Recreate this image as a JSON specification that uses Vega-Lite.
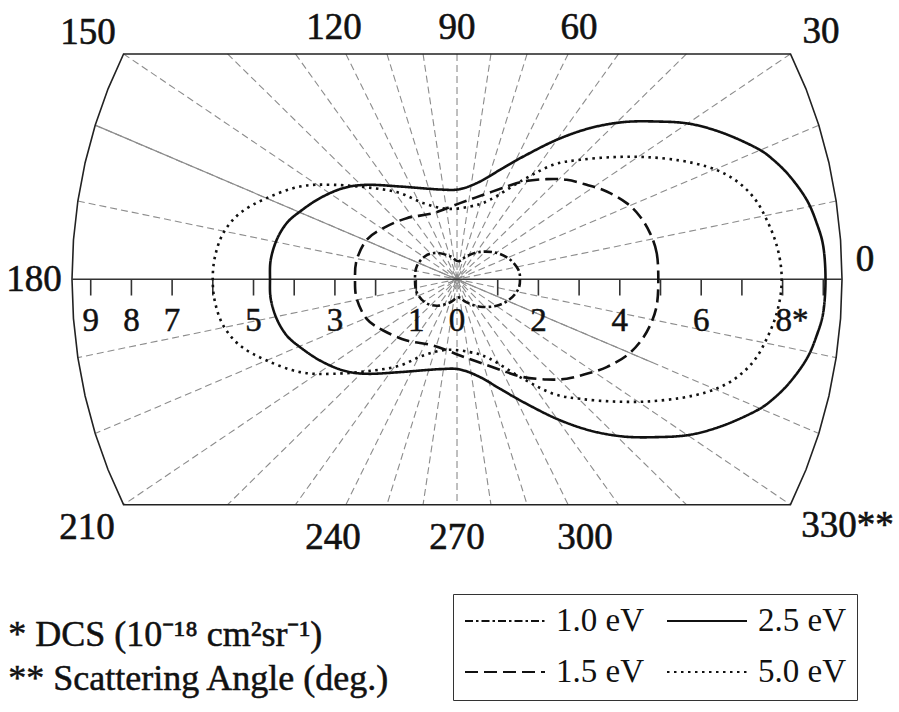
{
  "$schema": "https://vega.github.io/schema/vega-lite/v6.json",
  "width": 899,
  "height": 712,
  "autosize": {"type": "none"},
  "padding": 0,
  "background": "white",
  "config": {"view": {"stroke": null}},
  "datasets": {
    "spokes": [
      {"angle": 10, "x": 9.316, "y": 1.643, "x2": -9.316, "y2": -1.643},
      {"angle": 20, "x": 8.890, "y": 3.235, "x2": -8.890, "y2": -3.235},
      {"angle": 30, "x": 8.193, "y": 4.730, "x2": -8.193, "y2": -4.730},
      {"angle": 40, "x": 5.637, "y": 4.730, "x2": -5.637, "y2": -4.730},
      {"angle": 50, "x": 3.969, "y": 4.730, "x2": -3.969, "y2": -4.730},
      {"angle": 60, "x": 2.731, "y": 4.730, "x2": -2.731, "y2": -4.730},
      {"angle": 70, "x": 1.722, "y": 4.730, "x2": -1.722, "y2": -4.730},
      {"angle": 80, "x": 0.834, "y": 4.730, "x2": -0.834, "y2": -4.730},
      {"angle": 90, "x": 0, "y": 4.730, "x2": 0, "y2": -4.730},
      {"angle": 100, "x": -0.834, "y": 4.730, "x2": 0.834, "y2": -4.730},
      {"angle": 110, "x": -1.722, "y": 4.730, "x2": 1.722, "y2": -4.730},
      {"angle": 120, "x": -2.731, "y": 4.730, "x2": 2.731, "y2": -4.730},
      {"angle": 130, "x": -3.969, "y": 4.730, "x2": 3.969, "y2": -4.730},
      {"angle": 140, "x": -5.637, "y": 4.730, "x2": 5.637, "y2": -4.730},
      {"angle": 150, "x": -8.193, "y": 4.730, "x2": 8.193, "y2": -4.730},
      {"angle": 160, "x": -8.890, "y": 3.235, "x2": 8.890, "y2": -3.235},
      {"angle": 170, "x": -9.316, "y": 1.643, "x2": 9.316, "y2": -1.643}
    ],
    "refline": [
      {"x": -8.890, "y": 3.235, "x2": 4.8, "y2": -1.747}
    ],
    "axisline": [
      {"x": -9.46, "y": 0, "x2": 9.46, "y2": 0}
    ],
    "frame": [
      {"i": 0, "x": 8.193, "y": 4.730},
      {"i": 1, "x": 8.574, "y": 3.998},
      {"i": 2, "x": 8.890, "y": 3.235},
      {"i": 3, "x": 9.138, "y": 2.448},
      {"i": 4, "x": 9.316, "y": 1.643},
      {"i": 5, "x": 9.424, "y": 0.825},
      {"i": 6, "x": 9.460, "y": 0},
      {"i": 7, "x": 9.424, "y": -0.825},
      {"i": 8, "x": 9.316, "y": -1.643},
      {"i": 9, "x": 9.138, "y": -2.448},
      {"i": 10, "x": 8.890, "y": -3.235},
      {"i": 11, "x": 8.574, "y": -3.998},
      {"i": 12, "x": 8.193, "y": -4.730},
      {"i": 13, "x": -8.193, "y": -4.730},
      {"i": 14, "x": -8.574, "y": -3.998},
      {"i": 15, "x": -8.890, "y": -3.235},
      {"i": 16, "x": -9.138, "y": -2.448},
      {"i": 17, "x": -9.316, "y": -1.643},
      {"i": 18, "x": -9.424, "y": -0.825},
      {"i": 19, "x": -9.460, "y": 0},
      {"i": 20, "x": -9.424, "y": 0.825},
      {"i": 21, "x": -9.316, "y": 1.643},
      {"i": 22, "x": -9.138, "y": 2.448},
      {"i": 23, "x": -8.890, "y": 3.235},
      {"i": 24, "x": -8.574, "y": 3.998},
      {"i": 25, "x": -8.193, "y": 4.730}
    ],
    "ticks": [
      {"x": -9, "y": 0}, {"x": -8, "y": 0}, {"x": -7, "y": 0}, {"x": -6, "y": 0}, {"x": -5, "y": 0},
      {"x": -4, "y": 0}, {"x": -3, "y": 0}, {"x": -2, "y": 0}, {"x": -1, "y": 0},
      {"x": 1, "y": 0}, {"x": 2, "y": 0}, {"x": 3, "y": 0}, {"x": 4, "y": 0}, {"x": 5, "y": 0},
      {"x": 6, "y": 0}, {"x": 7, "y": 0}, {"x": 8, "y": 0}, {"x": 9, "y": 0}
    ],
    "curves": [
      {"series": "2.5 eV", "i": 0, "x": 9.054, "y": 0},
      {"series": "2.5 eV", "i": 1, "x": 9.000, "y": 0.688},
      {"series": "2.5 eV", "i": 2, "x": 8.838, "y": 1.179},
      {"series": "2.5 eV", "i": 3, "x": 8.592, "y": 1.669},
      {"series": "2.5 eV", "i": 4, "x": 8.182, "y": 2.157},
      {"series": "2.5 eV", "i": 5, "x": 7.771, "y": 2.508},
      {"series": "2.5 eV", "i": 6, "x": 7.364, "y": 2.753},
      {"series": "2.5 eV", "i": 7, "x": 6.543, "y": 3.068},
      {"series": "2.5 eV", "i": 8, "x": 5.725, "y": 3.263},
      {"series": "2.5 eV", "i": 9, "x": 4.907, "y": 3.312},
      {"series": "2.5 eV", "i": 10, "x": 4.086, "y": 3.299},
      {"series": "2.5 eV", "i": 11, "x": 3.268, "y": 3.173},
      {"series": "2.5 eV", "i": 12, "x": 2.450, "y": 2.928},
      {"series": "2.5 eV", "i": 13, "x": 1.629, "y": 2.577},
      {"series": "2.5 eV", "i": 14, "x": 1.057, "y": 2.298},
      {"series": "2.5 eV", "i": 15, "x": 0.565, "y": 2.052},
      {"series": "2.5 eV", "i": 16, "x": 0.074, "y": 1.893},
      {"series": "2.5 eV", "i": 17, "x": -0.418, "y": 1.885},
      {"series": "2.5 eV", "i": 18, "x": -1.400, "y": 1.948},
      {"series": "2.5 eV", "i": 19, "x": -2.219, "y": 1.983},
      {"series": "2.5 eV", "i": 20, "x": -2.794, "y": 1.914},
      {"series": "2.5 eV", "i": 21, "x": -3.366, "y": 1.704},
      {"series": "2.5 eV", "i": 22, "x": -3.857, "y": 1.423},
      {"series": "2.5 eV", "i": 23, "x": -4.184, "y": 1.179},
      {"series": "2.5 eV", "i": 24, "x": -4.430, "y": 0.829},
      {"series": "2.5 eV", "i": 25, "x": -4.577, "y": 0.409},
      {"series": "2.5 eV", "i": 26, "x": -4.595, "y": 0},
      {"series": "2.5 eV", "i": 27, "x": -4.577, "y": -0.409},
      {"series": "2.5 eV", "i": 28, "x": -4.430, "y": -0.829},
      {"series": "2.5 eV", "i": 29, "x": -4.184, "y": -1.179},
      {"series": "2.5 eV", "i": 30, "x": -3.857, "y": -1.423},
      {"series": "2.5 eV", "i": 31, "x": -3.366, "y": -1.704},
      {"series": "2.5 eV", "i": 32, "x": -2.794, "y": -1.914},
      {"series": "2.5 eV", "i": 33, "x": -2.219, "y": -1.983},
      {"series": "2.5 eV", "i": 34, "x": -1.400, "y": -1.948},
      {"series": "2.5 eV", "i": 35, "x": -0.418, "y": -1.885},
      {"series": "2.5 eV", "i": 36, "x": 0.074, "y": -1.893},
      {"series": "2.5 eV", "i": 37, "x": 0.565, "y": -2.052},
      {"series": "2.5 eV", "i": 38, "x": 1.057, "y": -2.298},
      {"series": "2.5 eV", "i": 39, "x": 1.629, "y": -2.577},
      {"series": "2.5 eV", "i": 40, "x": 2.450, "y": -2.928},
      {"series": "2.5 eV", "i": 41, "x": 3.268, "y": -3.173},
      {"series": "2.5 eV", "i": 42, "x": 4.086, "y": -3.299},
      {"series": "2.5 eV", "i": 43, "x": 4.907, "y": -3.312},
      {"series": "2.5 eV", "i": 44, "x": 5.725, "y": -3.263},
      {"series": "2.5 eV", "i": 45, "x": 6.543, "y": -3.068},
      {"series": "2.5 eV", "i": 46, "x": 7.364, "y": -2.753},
      {"series": "2.5 eV", "i": 47, "x": 7.771, "y": -2.508},
      {"series": "2.5 eV", "i": 48, "x": 8.182, "y": -2.157},
      {"series": "2.5 eV", "i": 49, "x": 8.592, "y": -1.669},
      {"series": "2.5 eV", "i": 50, "x": 8.838, "y": -1.179},
      {"series": "2.5 eV", "i": 51, "x": 9.000, "y": -0.688},

      {"series": "1.5 eV", "i": 0, "x": 4.946, "y": 0},
      {"series": "1.5 eV", "i": 1, "x": 4.907, "y": 0.550},
      {"series": "1.5 eV", "i": 2, "x": 4.742, "y": 0.970},
      {"series": "1.5 eV", "i": 3, "x": 4.496, "y": 1.318},
      {"series": "1.5 eV", "i": 4, "x": 4.169, "y": 1.599},
      {"series": "1.5 eV", "i": 5, "x": 3.678, "y": 1.843},
      {"series": "1.5 eV", "i": 6, "x": 3.186, "y": 1.983},
      {"series": "1.5 eV", "i": 7, "x": 2.695, "y": 2.088},
      {"series": "1.5 eV", "i": 8, "x": 2.204, "y": 2.103},
      {"series": "1.5 eV", "i": 9, "x": 1.629, "y": 2.052},
      {"series": "1.5 eV", "i": 10, "x": 1.221, "y": 1.948},
      {"series": "1.5 eV", "i": 11, "x": 0.646, "y": 1.773},
      {"series": "1.5 eV", "i": 12, "x": 0.074, "y": 1.599},
      {"series": "1.5 eV", "i": 13, "x": -0.582, "y": 1.389},
      {"series": "1.5 eV", "i": 14, "x": -1.236, "y": 1.284},
      {"series": "1.5 eV", "i": 15, "x": -1.811, "y": 1.074},
      {"series": "1.5 eV", "i": 16, "x": -2.219, "y": 0.829},
      {"series": "1.5 eV", "i": 17, "x": -2.464, "y": 0.409},
      {"series": "1.5 eV", "i": 18, "x": -2.506, "y": 0},
      {"series": "1.5 eV", "i": 19, "x": -2.464, "y": -0.409},
      {"series": "1.5 eV", "i": 20, "x": -2.219, "y": -0.829},
      {"series": "1.5 eV", "i": 21, "x": -1.811, "y": -1.074},
      {"series": "1.5 eV", "i": 22, "x": -1.236, "y": -1.284},
      {"series": "1.5 eV", "i": 23, "x": -0.582, "y": -1.389},
      {"series": "1.5 eV", "i": 24, "x": 0.074, "y": -1.599},
      {"series": "1.5 eV", "i": 25, "x": 0.646, "y": -1.773},
      {"series": "1.5 eV", "i": 26, "x": 1.221, "y": -1.948},
      {"series": "1.5 eV", "i": 27, "x": 1.629, "y": -2.052},
      {"series": "1.5 eV", "i": 28, "x": 2.204, "y": -2.103},
      {"series": "1.5 eV", "i": 29, "x": 2.695, "y": -2.088},
      {"series": "1.5 eV", "i": 30, "x": 3.186, "y": -1.983},
      {"series": "1.5 eV", "i": 31, "x": 3.678, "y": -1.843},
      {"series": "1.5 eV", "i": 32, "x": 4.169, "y": -1.599},
      {"series": "1.5 eV", "i": 33, "x": 4.496, "y": -1.318},
      {"series": "1.5 eV", "i": 34, "x": 4.742, "y": -0.970},
      {"series": "1.5 eV", "i": 35, "x": 4.907, "y": -0.550},

      {"series": "5.0 eV", "i": 0, "x": 7.978, "y": 0},
      {"series": "5.0 eV", "i": 1, "x": 7.936, "y": 0.409},
      {"series": "5.0 eV", "i": 2, "x": 7.813, "y": 0.829},
      {"series": "5.0 eV", "i": 3, "x": 7.609, "y": 1.249},
      {"series": "5.0 eV", "i": 4, "x": 7.364, "y": 1.633},
      {"series": "5.0 eV", "i": 5, "x": 7.034, "y": 1.948},
      {"series": "5.0 eV", "i": 6, "x": 6.627, "y": 2.193},
      {"series": "5.0 eV", "i": 7, "x": 6.135, "y": 2.367},
      {"series": "5.0 eV", "i": 8, "x": 5.479, "y": 2.493},
      {"series": "5.0 eV", "i": 9, "x": 4.661, "y": 2.565},
      {"series": "5.0 eV", "i": 10, "x": 3.840, "y": 2.565},
      {"series": "5.0 eV", "i": 11, "x": 3.022, "y": 2.508},
      {"series": "5.0 eV", "i": 12, "x": 2.366, "y": 2.403},
      {"series": "5.0 eV", "i": 13, "x": 1.629, "y": 2.090},
      {"series": "5.0 eV", "i": 14, "x": 0.810, "y": 1.668},
      {"series": "5.0 eV", "i": 15, "x": 0.319, "y": 1.528},
      {"series": "5.0 eV", "i": 16, "x": -0.253, "y": 1.480},
      {"series": "5.0 eV", "i": 17, "x": -0.828, "y": 1.599},
      {"series": "5.0 eV", "i": 18, "x": -1.400, "y": 1.809},
      {"series": "5.0 eV", "i": 19, "x": -2.056, "y": 1.914},
      {"series": "5.0 eV", "i": 20, "x": -3.039, "y": 1.983},
      {"series": "5.0 eV", "i": 21, "x": -3.857, "y": 1.948},
      {"series": "5.0 eV", "i": 22, "x": -4.676, "y": 1.704},
      {"series": "5.0 eV", "i": 23, "x": -5.332, "y": 1.389},
      {"series": "5.0 eV", "i": 24, "x": -5.742, "y": 0.970},
      {"series": "5.0 eV", "i": 25, "x": -5.946, "y": 0.478},
      {"series": "5.0 eV", "i": 26, "x": -6.002, "y": 0},
      {"series": "5.0 eV", "i": 27, "x": -5.946, "y": -0.478},
      {"series": "5.0 eV", "i": 28, "x": -5.742, "y": -0.970},
      {"series": "5.0 eV", "i": 29, "x": -5.332, "y": -1.389},
      {"series": "5.0 eV", "i": 30, "x": -4.676, "y": -1.704},
      {"series": "5.0 eV", "i": 31, "x": -3.857, "y": -1.948},
      {"series": "5.0 eV", "i": 32, "x": -3.039, "y": -1.983},
      {"series": "5.0 eV", "i": 33, "x": -2.056, "y": -1.914},
      {"series": "5.0 eV", "i": 34, "x": -1.400, "y": -1.809},
      {"series": "5.0 eV", "i": 35, "x": -0.828, "y": -1.599},
      {"series": "5.0 eV", "i": 36, "x": -0.253, "y": -1.480},
      {"series": "5.0 eV", "i": 37, "x": 0.319, "y": -1.528},
      {"series": "5.0 eV", "i": 38, "x": 0.810, "y": -1.668},
      {"series": "5.0 eV", "i": 39, "x": 1.629, "y": -2.090},
      {"series": "5.0 eV", "i": 40, "x": 2.366, "y": -2.403},
      {"series": "5.0 eV", "i": 41, "x": 3.022, "y": -2.508},
      {"series": "5.0 eV", "i": 42, "x": 3.840, "y": -2.565},
      {"series": "5.0 eV", "i": 43, "x": 4.661, "y": -2.565},
      {"series": "5.0 eV", "i": 44, "x": 5.479, "y": -2.493},
      {"series": "5.0 eV", "i": 45, "x": 6.135, "y": -2.367},
      {"series": "5.0 eV", "i": 46, "x": 6.627, "y": -2.193},
      {"series": "5.0 eV", "i": 47, "x": 7.034, "y": -1.948},
      {"series": "5.0 eV", "i": 48, "x": 7.364, "y": -1.633},
      {"series": "5.0 eV", "i": 49, "x": 7.609, "y": -1.249},
      {"series": "5.0 eV", "i": 50, "x": 7.813, "y": -0.829},
      {"series": "5.0 eV", "i": 51, "x": 7.936, "y": -0.409},

      {"series": "1.0 eV", "i": 0, "x": 1.548, "y": 0},
      {"series": "1.0 eV", "i": 1, "x": 1.506, "y": 0.205},
      {"series": "1.0 eV", "i": 2, "x": 1.302, "y": 0.415},
      {"series": "1.0 eV", "i": 3, "x": 0.975, "y": 0.555},
      {"series": "1.0 eV", "i": 4, "x": 0.565, "y": 0.575},
      {"series": "1.0 eV", "i": 5, "x": 0.238, "y": 0.485},
      {"series": "1.0 eV", "i": 6, "x": 0.032, "y": 0.380},
      {"series": "1.0 eV", "i": 7, "x": -0.172, "y": 0.485},
      {"series": "1.0 eV", "i": 8, "x": -0.499, "y": 0.555},
      {"series": "1.0 eV", "i": 9, "x": -0.786, "y": 0.485},
      {"series": "1.0 eV", "i": 10, "x": -0.990, "y": 0.270},
      {"series": "1.0 eV", "i": 11, "x": -1.032, "y": 0},
      {"series": "1.0 eV", "i": 12, "x": -0.990, "y": -0.270},
      {"series": "1.0 eV", "i": 13, "x": -0.786, "y": -0.485},
      {"series": "1.0 eV", "i": 14, "x": -0.499, "y": -0.555},
      {"series": "1.0 eV", "i": 15, "x": -0.172, "y": -0.485},
      {"series": "1.0 eV", "i": 16, "x": 0.032, "y": -0.380},
      {"series": "1.0 eV", "i": 17, "x": 0.238, "y": -0.485},
      {"series": "1.0 eV", "i": 18, "x": 0.565, "y": -0.575},
      {"series": "1.0 eV", "i": 19, "x": 0.975, "y": -0.555},
      {"series": "1.0 eV", "i": 20, "x": 1.302, "y": -0.415},
      {"series": "1.0 eV", "i": 21, "x": 1.506, "y": -0.205}
    ],
    "ticklabels": [
      {"x": -9, "y": -1.077, "label": "9"},
      {"x": -8, "y": -1.077, "label": "8"},
      {"x": -7, "y": -1.077, "label": "7"},
      {"x": -5, "y": -1.077, "label": "5"},
      {"x": -3, "y": -1.077, "label": "3"},
      {"x": -1, "y": -1.077, "label": "1"},
      {"x": 0, "y": -1.077, "label": "0"},
      {"x": 2, "y": -1.077, "label": "2"},
      {"x": 4, "y": -1.077, "label": "4"},
      {"x": 6, "y": -1.077, "label": "6"},
      {"x": 8.23, "y": -1.077, "label": "8*"}
    ],
    "anglelabels": [
      {"x": -9.066, "y": 4.946, "label": "150"},
      {"x": -3.022, "y": 5.052, "label": "120"},
      {"x": 0, "y": 5.052, "label": "90"},
      {"x": 2.998, "y": 5.052, "label": "60"},
      {"x": 8.943, "y": 4.967, "label": "30"},
      {"x": 10.025, "y": 0.183, "label": "0"},
      {"x": -10.393, "y": -0.237, "label": "180"},
      {"x": -9.091, "y": -5.448, "label": "210"},
      {"x": -3.047, "y": -5.658, "label": "240"},
      {"x": 0, "y": -5.658, "label": "270"},
      {"x": 3.145, "y": -5.658, "label": "300"},
      {"x": 9.595, "y": -5.414, "label": "330**"}
    ],
    "notes": [
      {"x": -11.024, "y": -7.687, "label": "* DCS (10⁻¹⁸ cm²sr⁻¹)"},
      {"x": -11.024, "y": -8.617, "label": "** Scattering Angle (deg.)"}
    ]
  },
  "encoding": {
    "x": {"field": "x", "type": "quantitative", "scale": {"domain": [-11.229, 10.860], "nice": false, "zero": false}, "axis": null},
    "y": {"field": "y", "type": "quantitative", "scale": {"domain": [-9.081, 5.862], "nice": false, "zero": false}, "axis": null}
  },
  "layer": [
    {
      "data": {"name": "spokes"},
      "mark": {"type": "rule", "color": "#8c8c8c", "strokeWidth": 1.1, "strokeDash": [7, 4]},
      "encoding": {"x2": {"field": "x2"}, "y2": {"field": "y2"}}
    },
    {
      "data": {"name": "refline"},
      "mark": {"type": "rule", "color": "#8c8c8c", "strokeWidth": 1.2},
      "encoding": {"x2": {"field": "x2"}, "y2": {"field": "y2"}}
    },
    {
      "data": {"name": "frame"},
      "mark": {"type": "line", "color": "#222222", "strokeWidth": 1.6, "interpolate": "linear-closed"},
      "encoding": {"order": {"field": "i", "type": "quantitative"}}
    },
    {
      "data": {"name": "axisline"},
      "mark": {"type": "rule", "color": "#333333", "strokeWidth": 1.6},
      "encoding": {"x2": {"field": "x2"}, "y2": {"field": "y2"}}
    },
    {
      "data": {"name": "ticks"},
      "mark": {"type": "rule", "color": "#333333", "strokeWidth": 1.6},
      "encoding": {"y2": {"datum": -0.34}}
    },
    {
      "data": {"name": "curves"},
      "mark": {"type": "line", "color": "#111111", "strokeWidth": 2.6, "interpolate": "cardinal-closed"},
      "encoding": {
        "order": {"field": "i", "type": "quantitative"},
        "strokeDash": {
          "field": "series",
          "type": "nominal",
          "scale": {
            "domain": ["1.0 eV", "1.5 eV", "2.5 eV", "5.0 eV"],
            "range": [[8, 3, 2.5, 3], [13, 6], [1, 0], [2.5, 4.5]]
          },
          "legend": {
            "orient": "none",
            "legendX": 453,
            "legendY": 594,
            "columns": 2,
            "title": null,
            "symbolType": "stroke",
            "symbolSize": 6400,
            "symbolStrokeWidth": 2,
            "symbolStrokeColor": "#111111",
            "clipHeight": 32,
            "labelFont": "Liberation Serif",
            "labelFontSize": 33,
            "labelColor": "#111111",
            "labelOffset": 10,
            "labelLimit": 0,
            "rowPadding": 18,
            "columnPadding": 22,
            "padding": 11,
            "strokeColor": "#333333"
          }
        }
      }
    },
    {
      "data": {"name": "ticklabels"},
      "mark": {"type": "text", "font": "Liberation Serif", "fontSize": 33, "color": "#111111", "stroke": "#111111", "strokeWidth": 0.5, "align": "center", "baseline": "alphabetic"},
      "encoding": {"text": {"field": "label"}}
    },
    {
      "data": {"name": "anglelabels"},
      "mark": {"type": "text", "font": "Liberation Serif", "fontSize": 37, "color": "#111111", "stroke": "#111111", "strokeWidth": 0.6, "align": "center", "baseline": "alphabetic"},
      "encoding": {"text": {"field": "label"}}
    },
    {
      "data": {"name": "notes"},
      "mark": {"type": "text", "font": "Liberation Serif", "fontSize": 36, "color": "#111111", "stroke": "#111111", "strokeWidth": 0.5, "align": "left", "baseline": "alphabetic"},
      "encoding": {"text": {"field": "label"}}
    }
  ]
}
